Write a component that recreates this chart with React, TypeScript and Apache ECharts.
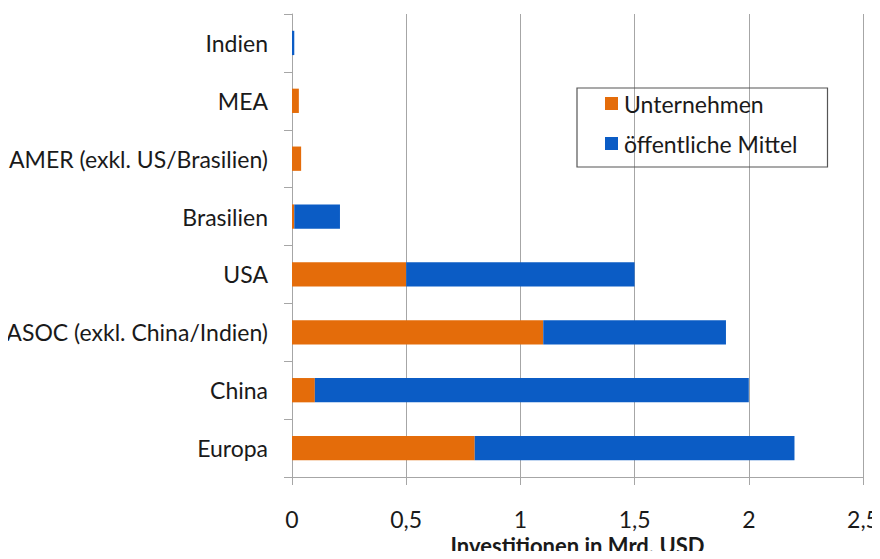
import React, { useEffect, useRef } from "react";
import * as echarts from "echarts";

const categories = [
  "Europa",
  "China",
  "ASOC (exkl. China/Indien)",
  "USA",
  "Brasilien",
  "AMER (exkl. US/Brasilien)",
  "MEA",
  "Indien",
];
const unternehmen = [0.8, 0.1, 1.1, 0.5, 0.01, 0.04, 0.03, 0];
const oeffentlich = [1.4, 1.9, 0.8, 1.0, 0.2, 0, 0, 0.01];
const seriesNames = ["Unternehmen", "öffentliche Mittel"];
const xTitle = "Investitionen in Mrd. USD";

const FONT = "Lato";

export default function App() {
  const ref = useRef<HTMLDivElement>(null);
  useEffect(() => {
    if (!ref.current) return;
    const chart = echarts.init(ref.current, undefined, { renderer: "svg" });
    chart.setOption({
      animation: false,
      backgroundColor: "#ffffff",
      textStyle: { fontFamily: FONT },
      grid: {
        left: 292,
        right: 17,
        top: 14,
        bottom: 82,
        containLabel: false,
        outerBoundsMode: "none",
      },
      legend: {
        orient: "vertical",
        left: 577,
        top: 88,
        padding: [4, 30, 12, 28],
        itemGap: 17,
        itemWidth: 13,
        itemHeight: 13,
        borderColor: "#555555",
        borderWidth: 1.2,
        icon: "rect",
        textStyle: { fontFamily: FONT, fontSize: 23, color: "#1a1a1a", padding: [0, 0, 0, 1] },
        data: seriesNames,
      },
      xAxis: {
        type: "value",
        min: 0,
        max: 2.5,
        interval: 0.5,
        name: xTitle,
        nameLocation: "middle",
        nameGap: 57,
        nameTextStyle: { fontFamily: FONT, fontSize: 22, fontWeight: "bold", color: "#1a1a1a" },
        axisLine: { show: true, lineStyle: { color: "#a6a6a6", width: 1 } },
        axisTick: { show: true, length: 8, lineStyle: { color: "#a6a6a6" } },
        splitLine: { show: true, lineStyle: { color: "#a6a6a6", width: 1 } },
        axisLabel: {
          fontFamily: FONT,
          fontSize: 23,
          color: "#1a1a1a",
          margin: 30,
          formatter: (v: number) => String(v).replace(".", ","),
        },
      },
      yAxis: {
        type: "category",
        data: categories,
        axisLine: { show: true, lineStyle: { color: "#a6a6a6", width: 1 } },
        axisTick: { show: true, length: 8, lineStyle: { color: "#a6a6a6" } },
        axisLabel: { fontFamily: FONT, fontSize: 23, color: "#1a1a1a", margin: 24 },
      },
      series: [
        {
          name: seriesNames[0],
          type: "bar",
          stack: "total",
          data: unternehmen,
          barWidth: "42%",
          itemStyle: { color: "#E46C0A" },
        },
        {
          name: seriesNames[1],
          type: "bar",
          stack: "total",
          data: oeffentlich,
          barWidth: "42%",
          itemStyle: { color: "#0B5CC5" },
        },
      ],
    });
    return () => chart.dispose();
  }, []);
  return <div ref={ref} style={{ width: 880, height: 559, margin: -8 }} />;
}
